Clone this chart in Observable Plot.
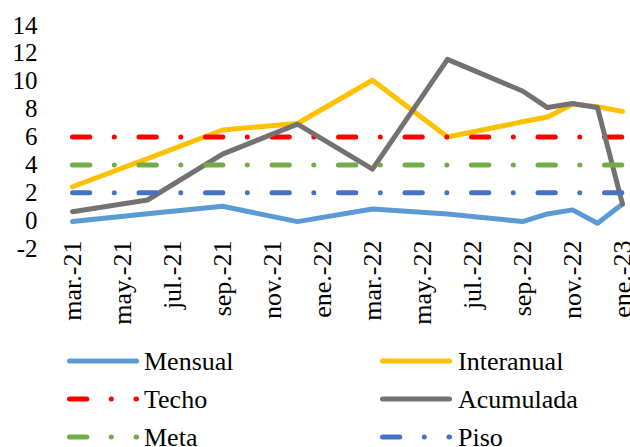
<!DOCTYPE html>
<html><head><meta charset="utf-8">
<script src="https://cdn.jsdelivr.net/npm/d3@7"></script>
<script src="https://cdn.jsdelivr.net/npm/@observablehq/plot@0.6"></script>
<style>
body{margin:0;background:#fff;font-family:"Liberation Serif","DejaVu Serif",serif;}
#chart{width:630px;height:447px;overflow:hidden;}
#chart svg{display:block;font-family:"Liberation Serif","DejaVu Serif",serif !important;}
#chart svg text{font-family:"Liberation Serif","DejaVu Serif",serif !important;}
</style></head><body><div id="chart"></div>
<script>
// Category axis (monthly)
const months = ["mar.-21","abr.-21","may.-21","jun.-21","jul.-21","ago.-21","sep.-21","oct.-21","nov.-21","dic.-21","ene.-22","feb.-22","mar.-22","abr.-22","may.-22","jun.-22","jul.-22","ago.-22","sep.-22","oct.-22","nov.-22","dic.-22","ene.-23"];
const xTickLabels = ["mar.-21","may.-21","jul.-21","sep.-21","nov.-21","ene.-22","mar.-22","may.-22","jul.-22","sep.-22","nov.-22","ene.-23"];
const yTicks = [-2,0,2,4,6,8,10,12,14];
// Observation months (vertices of the lines)
const obsMonths = ["mar.-21","jun.-21","sep.-21","dic.-21","mar.-22","jun.-22","sep.-22","oct.-22","nov.-22","dic.-22","ene.-23"];
const mensual    = [-0.07, 0.50, 1.03, -0.07, 0.84, 0.48, -0.07, 0.48, 0.77, -0.19, 1.19];
const interanual = [ 2.43, 4.45, 6.50,  6.97, 10.07, 6.00, 7.09, 7.44, 8.35, 8.18, 7.83];
const acumulada  = [ 0.64, 1.48, 4.77,  6.92, 3.70, 11.57, 9.30, 8.11, 8.40, 8.11, 1.19];
const techo = 6, meta = 4, piso = 2;
const seriesNames = ["Mensual","Interanual","Techo","Acumulada","Meta","Piso"];
const seriesColors = ["#5B9BD5","#FFC000","#FF0000","#767171","#70AD47","#4472C4"];

const FONT = '"Liberation Serif","DejaVu Serif",serif';
const DASH = "17.3,24.5,0,24.7";
const toRows = vals => obsMonths.map((m,i)=>({month:m, value:vals[i]}));
const refRows = v => [{month:months[0], value:v},{month:months[months.length-1], value:v}];
const solid = (rows, color) => Plot.line(rows,{x:"month",y:"value",stroke:color,strokeWidth:5,strokeLinejoin:"round",strokeLinecap:"round"});
const dashed = (rows, color) => Plot.line(rows,{x:"month",y:"value",stroke:color,strokeWidth:5,strokeDasharray:DASH,strokeLinecap:"round"});

const chart = Plot.plot({
  width:630, height:335,
  marginLeft:72, marginRight:8, marginTop:25, marginBottom:87,
  x:{type:"point", domain:months, padding:0},
  y:{domain:[-2,14]},
  style:{fontFamily:FONT, fontSize:"25px", color:"#000", background:"#fff"},
  marks:[
    Plot.axisY({ticks:yTicks, tickSize:0, tickPadding:35, tickFormat:d=>String(d), fontSize:25, label:null}),
    Plot.axisX({ticks:xTickLabels, tickSize:0, tickPadding:-8, tickRotate:-90, fontSize:26, label:null}),
    solid(toRows(mensual), seriesColors[0]),
    solid(toRows(interanual), seriesColors[1]),
    dashed(refRows(techo), seriesColors[2]),
    solid(toRows(acumulada), seriesColors[3]),
    dashed(refRows(meta), seriesColors[4]),
    dashed(refRows(piso), seriesColors[5])
  ]
});
document.getElementById("chart").appendChild(chart);

// Legend below the plot
const lg = d3.select("#chart").append("svg").attr("width",630).attr("height",112)
  .attr("font-family",FONT);
const colX = [69.5, 382.5], textX = [144, 458], rowY = [26, 64, 102];
seriesNames.forEach((name,i)=>{
  const c = i%2, r = Math.floor(i/2);
  const isRef = (name==="Techo"||name==="Meta"||name==="Piso");
  lg.append("line").attr("x1",colX[c]).attr("x2",colX[c]+67).attr("y1",rowY[r]).attr("y2",rowY[r])
    .attr("stroke",seriesColors[i]).attr("stroke-width",5).attr("stroke-linecap","round")
    .attr("stroke-dasharray", isRef ? DASH : null);
  lg.append("text").attr("x",textX[c]).attr("y",rowY[r]+9).attr("font-size",26).attr("fill","#000").text(name);
});
</script></body></html>
